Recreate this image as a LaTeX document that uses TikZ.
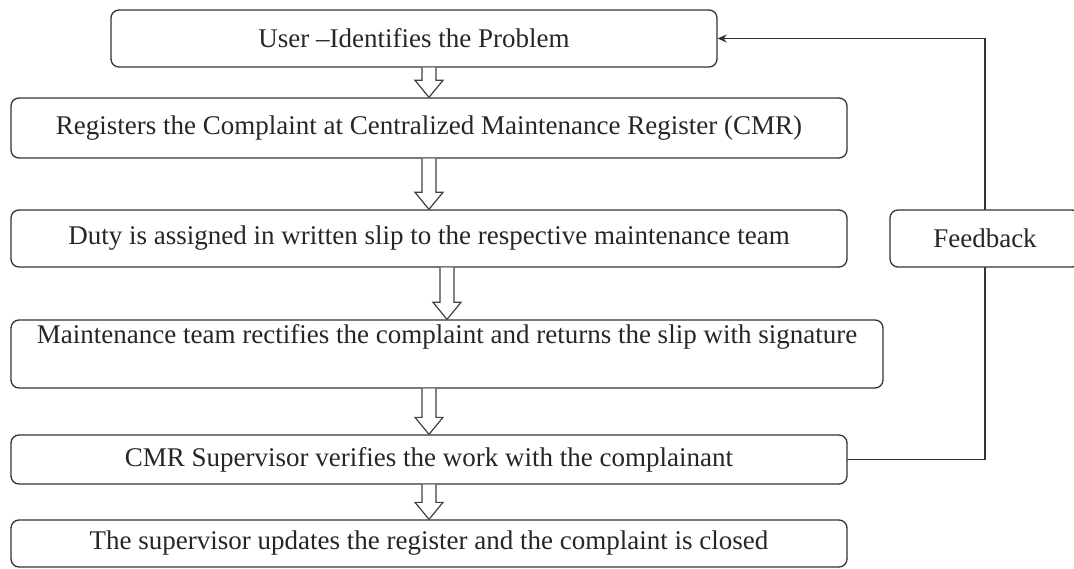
\documentclass[tikz,border=0pt]{standalone}
\usepackage{fontspec}
\setmainfont{Liberation Serif}
\usetikzlibrary{calc,arrows.meta}

\tikzset{
  stepbox/.style={draw=black!80, line width=1.3pt, rounded corners=8pt, inner sep=4pt, text=black!85},
  hollow/.style={draw=black!75, line width=1.2pt, fill=white, line join=miter},
  feedline/.style={draw=black!80, line width=1.3pt}
}

\newcommand{\flowarrow}[2]{%
  \draw[hollow] ($(#1.south -| #2.north)+(-7,0)$) -- ($(#2.north)+(-7,-17)$) -- ($(#2.north)+(-14,-17)$)
    -- (#2.north) -- ($(#2.north)+(14,-17)$) -- ($(#2.north)+(7,-17)$) -- ($(#1.south -| #2.north)+(7,0)$);}

\begin{document}
\begin{tikzpicture}[x=1pt, y=-1pt, font=\fontsize{27}{31}\selectfont, line cap=round, >=stealth]
  \useasboundingbox (0,0) rectangle (1074,569);
  \clip (0,0) rectangle (1074,569);
  \node[stepbox, minimum width=606, minimum height=57] (usr) at (414,38.5) {User --Identifies the Problem};
  \node[stepbox, minimum width=836, minimum height=60] (reg) at (429,128) {Registers the Complaint at Centralized Maintenance Register (CMR)};
  \node[stepbox, minimum width=836, minimum height=57] (duty) at (429,238.5) {Duty is assigned in written slip to the respective maintenance team};
  \node[stepbox, minimum width=872, minimum height=68, text height=20pt, text depth=40pt] (fix) at (447,354) {Maintenance team rectifies the complaint and returns the slip with signature};
  \node[stepbox, minimum width=836, minimum height=49] (verify) at (429,459.5) {CMR Supervisor verifies the work with the complainant};
  \node[stepbox, minimum width=836, minimum height=47] (close) at (429,543.5) {The supervisor updates the register and the complaint is closed};
  \node[stepbox, minimum width=190, minimum height=57] (fb) at (985,238.5) {Feedback};

  \flowarrow{usr}{reg}
  \flowarrow{reg}{duty}
  \flowarrow{duty}{fix}
  \flowarrow{fix}{verify}
  \flowarrow{verify}{close}

  \draw[feedline] (verify.east) -| (fb.south);
  \draw[feedline, -{Stealth[length=9pt, width=8pt]}] (fb.north) |- (usr.east);
\end{tikzpicture}
\end{document}
